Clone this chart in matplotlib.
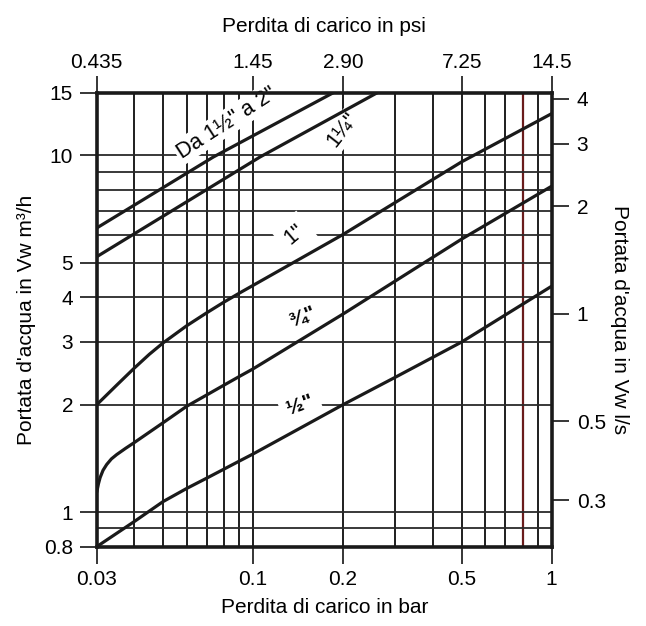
import matplotlib
matplotlib.use('Agg')
import matplotlib.pyplot as plt
from matplotlib.ticker import NullLocator, FixedLocator, FixedFormatter

plt.rcParams['font.family'] = ['Liberation Sans', 'DejaVu Sans']
plt.rcParams['font.size'] = 15

# curves: pressure loss (bar) -> flow (m3/h)
bar_1half_2 = [0.03, 0.0737, 0.186]
q_1half_2 = [6.26, 9.9, 15]
bar_1quarter = [0.03, 0.1056, 0.261]
q_1quarter = [5.2, 9.9, 15]
bar_1 = [0.03, 0.035, 0.04, 0.045, 0.05, 0.06, 0.07, 0.08, 0.09, 0.1, 0.2, 0.5, 1.0]
q_1 = [2.0, 2.27, 2.53, 2.77, 2.98, 3.33, 3.62, 3.88, 4.11, 4.32, 6.0, 9.6, 13.1]
bar_3q = [0.03, 0.0304, 0.0308, 0.0315, 0.0324, 0.0336, 0.035, 0.0375, 0.04, 0.05, 0.06, 0.07,
          0.08, 0.09, 0.1, 0.2, 0.5, 1.0]
q_3q = [1.136, 1.2, 1.25, 1.31, 1.36, 1.41, 1.45, 1.51, 1.565, 1.78, 1.98, 2.13,
        2.27, 2.40, 2.52, 3.59, 5.83, 8.2]
bar_half = [0.03, 0.04, 0.05, 0.06, 0.07, 0.08, 0.09, 0.1, 0.2, 0.3, 0.5, 1.0]
q_half = [0.8, 0.94, 1.07, 1.165, 1.245, 1.32, 1.39, 1.455, 2.0, 2.39, 3.0, 4.3]

grid_bar = [0.04, 0.05, 0.06, 0.07, 0.08, 0.09, 0.1, 0.2, 0.3, 0.4, 0.5, 0.6, 0.7, 0.9]
red_bar = 0.8
grid_q = [0.9, 1, 2, 3, 4, 5, 6, 7, 8, 9, 10]

bar_ticks = [0.03, 0.1, 0.2, 0.5, 1]
bar_labels = ['0.03', '0.1', '0.2', '0.5', '1']
psi_ticks = [0.435, 1.45, 2.90, 7.25, 14.5]
psi_labels = ['0.435', '1.45', '2.90', '7.25', '14.5']
q_ticks = [0.8, 1, 2, 3, 4, 5, 10, 15]
q_labels = ['0.8', '1', '2', '3', '4', '5', '10', '15']
ls_ticks = [0.3, 0.5, 1, 2, 3, 4]
ls_labels = ['0.3', '0.5', '1', '2', '3', '4']

fig = plt.figure(figsize=(6.46, 6.26), dpi=100)
ax = fig.add_axes([0.1497, 0.1267, 0.7043, 0.7253])
ax.set_xscale('log')
ax.set_yscale('log')
ax.set_xlim(0.03, 1)
ax.set_ylim(0.8, 15)

for b in grid_bar:
    ax.axvline(b, color='#1e1e1e', lw=1.4, zorder=1)
ax.axvline(red_bar, color='#6a1c1c', lw=1.6, zorder=1)
for q in grid_q:
    ax.axhline(q, color='#2a2a2a', lw=1.3, zorder=1)

for xs, ys in [(bar_1half_2, q_1half_2), (bar_1quarter, q_1quarter), (bar_1, q_1),
               (bar_3q, q_3q), (bar_half, q_half)]:
    ax.plot(xs, ys, color='#1a1a1a', lw=2.3, zorder=3, solid_capstyle='butt',
            solid_joinstyle='round')

box = dict(facecolor='white', edgecolor='none', pad=1.5)
wide_box = dict(facecolor='white', edgecolor='none', pad=5)
ax.text(0.0815, 12.35, 'Da 1½" a 2"', rotation=33, ha='center', va='center',
        fontsize=15.5, bbox=box, zorder=2)
ax.text(0.2, 11.8, '1¼"', rotation=52, ha='center', va='center',
        fontsize=15.5, bbox=box, zorder=2)
ax.text(0.138, 6.0, '1"', rotation=40, ha='center', va='center',
        fontsize=15.5, bbox=wide_box, zorder=2)
ax.text(0.147, 3.54, '¾"', rotation=22, ha='center', va='center',
        fontsize=15, fontweight='bold', bbox=box, zorder=2)
ax.text(0.1437, 2.0, '½"', rotation=20, ha='center', va='center',
        fontsize=15, fontweight='bold', bbox=wide_box, zorder=2)

for s in ax.spines.values():
    s.set_linewidth(2.6)
    s.set_color('#1a1a1a')

ax.xaxis.set_major_locator(FixedLocator(bar_ticks))
ax.xaxis.set_major_formatter(FixedFormatter(bar_labels))
ax.xaxis.set_minor_locator(NullLocator())
ax.yaxis.set_major_locator(FixedLocator(q_ticks))
ax.yaxis.set_major_formatter(FixedFormatter(q_labels))
ax.yaxis.set_minor_locator(NullLocator())
ax.tick_params(direction='out', length=12, width=1.1, pad=5, labelsize=15)

top = ax.secondary_xaxis('top', functions=(lambda x: x * 14.5, lambda x: x / 14.5))
top.xaxis.set_major_locator(FixedLocator(psi_ticks))
top.xaxis.set_major_formatter(FixedFormatter(psi_labels))
top.xaxis.set_minor_locator(NullLocator())
top.tick_params(direction='out', length=12, width=1.1, pad=3, labelsize=15)
top.spines['top'].set_visible(False)

right = ax.secondary_yaxis('right', functions=(lambda y: y / 3.6, lambda y: y * 3.6))
right.yaxis.set_major_locator(FixedLocator(ls_ticks))
right.yaxis.set_major_formatter(FixedFormatter(ls_labels))
right.yaxis.set_minor_locator(NullLocator())
right.tick_params(direction='out', length=12, width=1.1, pad=6, labelsize=15)
right.spines['right'].set_visible(False)

ax.set_xlabel('Perdita di carico in bar', fontsize=15, labelpad=6)
ax.set_ylabel("Portata d'acqua in Vw m³/h", fontsize=15, labelpad=6)
top.set_xlabel('Perdita di carico in psi', fontsize=15, labelpad=15)
right.set_ylabel("Portata d'acqua in Vw l/s", fontsize=15, rotation=270, labelpad=17)

fig.savefig('out.png', dpi=100, facecolor='white')
